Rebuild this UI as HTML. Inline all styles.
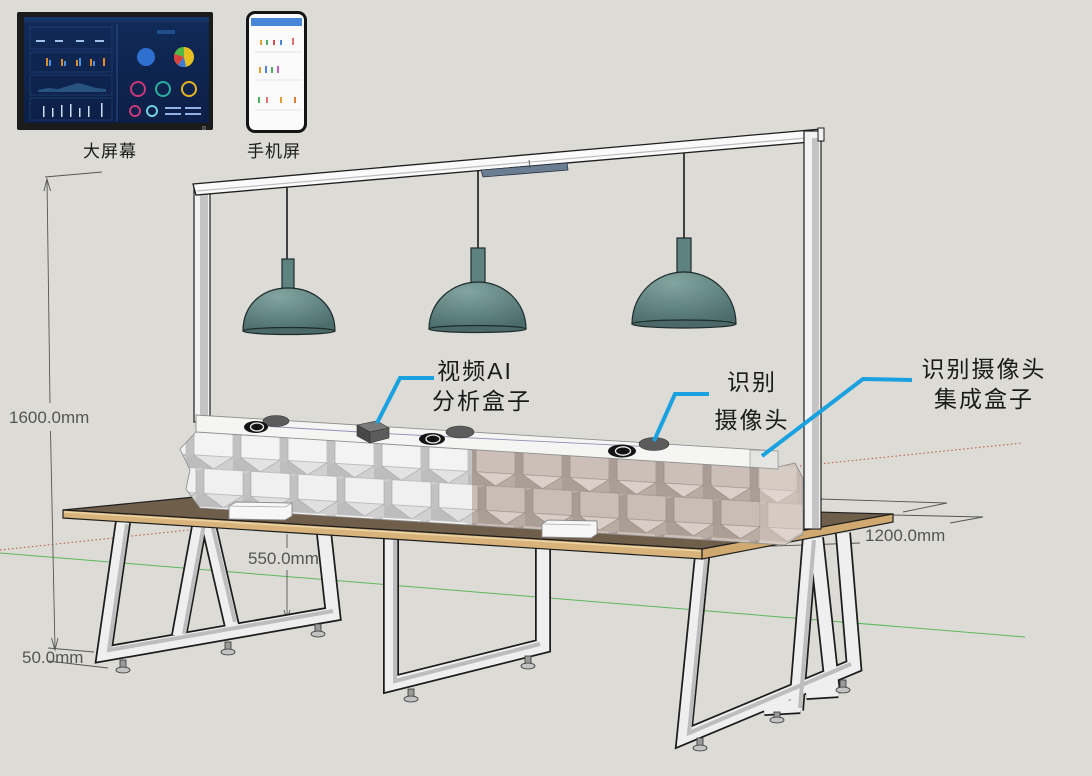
<!DOCTYPE html>
<html><head><meta charset="utf-8">
<style>
html,body{margin:0;padding:0;background:#dcdbd6;}
svg{display:block;}
</style></head><body>
<svg width="1092" height="776" viewBox="0 0 1092 776" xmlns="http://www.w3.org/2000/svg">
<defs>
 <radialGradient id="dome" cx="0.4" cy="0.2" r="0.85">
  <stop offset="0" stop-color="#82a5a2"/>
  <stop offset="1" stop-color="#4a6d6b"/>
 </radialGradient>
 <linearGradient id="scr" x1="0" y1="0" x2="0" y2="1">
  <stop offset="0" stop-color="#112a58"/>
  <stop offset="1" stop-color="#0c1f47"/>
 </linearGradient>
 <pattern id="pw" width="47" height="76" patternUnits="userSpaceOnUse" patternTransform="translate(45,421) skewY(3.43)">
  <rect width="47" height="76" fill="#d0d0d0"/>
  <g>
   <polygon points="0,3 8,0 8,25 0,28" fill="#c2c2c2"/>
   <polygon points="8,0 47,0 47,25 8,25" fill="#f3f3f3" stroke="#a6a6a6" stroke-width=".6"/>
   <polygon points="0,28 8,25 27.5,38 0,38" fill="#bdbdbd"/>
   <polygon points="8,25 47,25 27.5,38" fill="#e3e3e3" stroke="#a6a6a6" stroke-width=".6"/>
  </g>
  <g transform="translate(10,38)">
   <polygon points="0,3 8,0 8,25 0,28" fill="#c2c2c2"/>
   <polygon points="8,0 47,0 47,25 8,25" fill="#f0f0f0" stroke="#a6a6a6" stroke-width=".6"/>
   <polygon points="0,28 8,25 27.5,38 0,38" fill="#bdbdbd"/>
   <polygon points="8,25 47,25 27.5,38" fill="#e0e0e0" stroke="#a6a6a6" stroke-width=".6"/>
  </g>
  <g transform="translate(-37,38)">
   <polygon points="0,3 8,0 8,25 0,28" fill="#c2c2c2"/>
   <polygon points="8,0 47,0 47,25 8,25" fill="#f0f0f0" stroke="#a6a6a6" stroke-width=".6"/>
   <polygon points="0,28 8,25 27.5,38 0,38" fill="#bdbdbd"/>
   <polygon points="8,25 47,25 27.5,38" fill="#e0e0e0" stroke="#a6a6a6" stroke-width=".6"/>
  </g>
 </pattern>
 <pattern id="pb" width="47" height="76" patternUnits="userSpaceOnUse" patternTransform="translate(45,421) skewY(3.43)">
  <rect width="47" height="76" fill="#b9aca3"/>
  <g>
   <polygon points="0,3 8,0 8,25 0,28" fill="#a99c94"/>
   <polygon points="8,0 47,0 47,25 8,25" fill="#cbbfb7" stroke="#95887f" stroke-width=".6"/>
   <polygon points="0,28 8,25 27.5,38 0,38" fill="#ab9e95"/>
   <polygon points="8,25 47,25 27.5,38" fill="#dad0c9" stroke="#95887f" stroke-width=".6"/>
  </g>
  <g transform="translate(10,38)">
   <polygon points="0,3 8,0 8,25 0,28" fill="#a99c94"/>
   <polygon points="8,0 47,0 47,25 8,25" fill="#c9bdb5" stroke="#95887f" stroke-width=".6"/>
   <polygon points="0,28 8,25 27.5,38 0,38" fill="#ab9e95"/>
   <polygon points="8,25 47,25 27.5,38" fill="#d8cec7" stroke="#95887f" stroke-width=".6"/>
  </g>
  <g transform="translate(-37,38)">
   <polygon points="0,3 8,0 8,25 0,28" fill="#a99c94"/>
   <polygon points="8,0 47,0 47,25 8,25" fill="#c9bdb5" stroke="#95887f" stroke-width=".6"/>
   <polygon points="0,28 8,25 27.5,38 0,38" fill="#ab9e95"/>
   <polygon points="8,25 47,25 27.5,38" fill="#d8cec7" stroke="#95887f" stroke-width=".6"/>
  </g>
 </pattern>
 <clipPath id="panelClip"><polygon points="196,432 180,449 190,470 186,489 200,508 785,545 803,534 803,478 795,463 778,467"/></clipPath>
</defs>

<rect width="1092" height="776" fill="#dcdbd6"/>

<!-- ===== Screens ===== -->
<rect x="17" y="12" width="196" height="118" rx="2" fill="#1b1b1b"/>
<rect x="24" y="17" width="185" height="106" fill="url(#scr)"/>
<rect x="24" y="17" width="185" height="5" fill="#163566"/>
<line x1="117" y1="24" x2="117" y2="121" stroke="#2d5c9c" stroke-width="0.8"/>
<rect x="30" y="27" width="82" height="22" fill="none" stroke="#24497f" stroke-width="0.6"/>
<rect x="30" y="52" width="82" height="20" fill="none" stroke="#24497f" stroke-width="0.6"/>
<rect x="30" y="75" width="82" height="20" fill="none" stroke="#24497f" stroke-width="0.6"/>
<rect x="30" y="98" width="82" height="22" fill="none" stroke="#24497f" stroke-width="0.6"/>
<g fill="#9fc0ea">
 <rect x="36" y="40" width="9" height="2"/><rect x="55" y="40" width="8" height="2"/><rect x="76" y="40" width="8" height="2"/><rect x="95" y="40" width="9" height="2"/>
</g>
<g>
 <rect x="46" y="58" width="2" height="8" fill="#e08a2a"/><rect x="49" y="60" width="2" height="6" fill="#4a90e0"/>
 <rect x="61" y="59" width="2" height="7" fill="#e08a2a"/><rect x="64" y="61" width="2" height="5" fill="#4a90e0"/>
 <rect x="76" y="60" width="2" height="6" fill="#e08a2a"/><rect x="79" y="58" width="2" height="8" fill="#4a90e0"/>
 <rect x="90" y="59" width="2" height="7" fill="#e08a2a"/><rect x="93" y="61" width="2" height="5" fill="#4a90e0"/>
 <rect x="103" y="58" width="2" height="8" fill="#e08a2a"/>
</g>
<path d="M38,90 L48,88 L58,89 L68,86 L78,83 L86,85 L96,88 L106,89 L106,92 L38,92 Z" fill="#2f5f8f" opacity="0.8"/>
<g fill="#cfe0f6">
 <rect x="43" y="106" width="1.5" height="11"/><rect x="52" y="108" width="1.5" height="9"/><rect x="61" y="105" width="1.5" height="12"/>
 <rect x="70" y="104" width="1.5" height="13"/><rect x="79" y="108" width="1.5" height="9"/><rect x="88" y="106" width="1.5" height="11"/><rect x="101" y="103" width="1.5" height="14"/>
</g>
<rect x="157" y="30" width="18" height="4" fill="#1f4e8c"/>
<circle cx="146" cy="57" r="9" fill="#2f6fd0"/>
<circle cx="184" cy="57" r="10" fill="#e6c021"/>
<path d="M184,57 L184,47 A10,10 0 0,0 174.5,54 Z" fill="#4fb848"/>
<path d="M184,57 L174.5,54 A10,10 0 0,0 178,65 Z" fill="#d94040"/>
<path d="M184,57 L178,65 A10,10 0 0,0 186,66.8 Z" fill="#3e7bd9"/>
<g fill="none" stroke-width="2">
 <circle cx="138" cy="89" r="7" stroke="#c8387a"/>
 <circle cx="163" cy="89" r="7" stroke="#28b0a0"/>
 <circle cx="189" cy="89" r="7" stroke="#e6b422"/>
 <circle cx="135" cy="111" r="5" stroke="#c8387a"/>
 <circle cx="152" cy="111" r="5" stroke="#6fd0e0"/>
</g>
<g fill="#8fb3e6"><rect x="165" y="107" width="16" height="2"/><rect x="185" y="107" width="16" height="2"/><rect x="165" y="113" width="16" height="2"/><rect x="185" y="113" width="16" height="2"/></g>
<circle cx="204" cy="128" r="1.8" fill="#333" stroke="#888" stroke-width="0.6"/>

<rect x="246" y="11" width="61" height="122" rx="9" fill="#141414"/>
<rect x="249" y="14" width="55" height="116" rx="6" fill="#fbfbfb"/>
<rect x="251" y="18" width="51" height="8" fill="#4a86d8"/>
<g stroke="#dddddd" stroke-width="0.7"><line x1="255" y1="52" x2="302" y2="52"/><line x1="255" y1="80" x2="302" y2="80"/><line x1="255" y1="110" x2="302" y2="110"/></g>
<g>
 <rect x="260" y="40" width="2" height="5" fill="#e0a030"/><rect x="266" y="40" width="2" height="5" fill="#50b060"/><rect x="273" y="40" width="2" height="5" fill="#d05050"/><rect x="280" y="40" width="2" height="5" fill="#4a86d8"/><rect x="292" y="38" width="2" height="7" fill="#e07070"/>
 <rect x="259" y="67" width="2" height="6" fill="#e0a030"/><rect x="265" y="66" width="2" height="7" fill="#4a86d8"/><rect x="271" y="67" width="2" height="6" fill="#50b060"/><rect x="277" y="66" width="2" height="7" fill="#c060c0"/>
 <rect x="258" y="97" width="2" height="6" fill="#50b060"/><rect x="266" y="97" width="2" height="6" fill="#e07070"/><rect x="280" y="97" width="2" height="6" fill="#e0a030"/><rect x="294" y="97" width="2" height="6" fill="#e08030"/>
</g>

<text x="110" y="157" font-family="'Liberation Sans','Noto Sans CJK SC',sans-serif" font-size="17" fill="#1a1a1a" text-anchor="middle" letter-spacing="1">大屏幕</text>
<text x="274" y="157" font-family="'Liberation Sans','Noto Sans CJK SC',sans-serif" font-size="17" fill="#1a1a1a" text-anchor="middle" letter-spacing="1">手机屏</text>

<!-- ===== axes ===== -->
<line x1="0" y1="553" x2="1025" y2="637" stroke="#5cb85c" stroke-width="1"/>
<line x1="0" y1="550" x2="198" y2="529" stroke="#c0563f" stroke-width="1" stroke-dasharray="1.5 2.5"/>
<line x1="800" y1="466" x2="1022" y2="443" stroke="#c0563f" stroke-width="1" stroke-dasharray="1.5 2.5"/>

<!-- ===== dimension lines ===== -->
<g stroke="#555" stroke-width="0.9" fill="none">
 <line x1="45" y1="177" x2="102" y2="172"/>
 <line x1="47" y1="179" x2="50" y2="403"/>
 <line x1="50.5" y1="431" x2="55" y2="650"/>
 <polyline points="44,191 47,179 50.5,191"/>
 <polyline points="51.5,638 55,650 58,638"/>
 <line x1="48" y1="648" x2="94" y2="652"/>
 <line x1="48" y1="661" x2="108" y2="668"/>
 <line x1="97" y1="649" x2="97" y2="661"/>
 <line x1="287" y1="534" x2="287" y2="548"/>
 <line x1="287" y1="570" x2="287" y2="620"/>
 <polyline points="284,610 287,620 290,610"/>
 <line x1="820" y1="499" x2="947" y2="503"/>
 <line x1="947" y1="503" x2="903" y2="512"/>
 <line x1="893" y1="515" x2="983" y2="517"/>
 <line x1="950" y1="523" x2="983" y2="517"/>
 <line x1="717" y1="548" x2="860" y2="543"/>
</g>

<!-- ===== gantry top bar, left post, lamps ===== -->
<rect x="194" y="186" width="16" height="236" fill="#f2f2f2" stroke="#1e1e1e" stroke-width="1.2"/>
<rect x="200" y="192" width="8" height="230" fill="#c4c4c4"/>
<polygon points="193,184 822,129 822,141 196,195" fill="#fafafa" stroke="#1e1e1e" stroke-width="1.3"/>
<line x1="197" y1="191" x2="818" y2="137" stroke="#bdbdbd" stroke-width="1.2"/>
<polygon points="481,170 567,163 568,170 483,177" fill="#6b7d93" stroke="#2a3240" stroke-width="0.8"/>
<line x1="529" y1="160" x2="530" y2="168" stroke="#444" stroke-width="0.8"/>

<g stroke="#1a1a1a">
 <line x1="287" y1="187" x2="287" y2="259" stroke-width="1.6"/>
 <line x1="478" y1="170" x2="478" y2="248" stroke-width="1.6"/>
 <line x1="684" y1="153" x2="684" y2="238" stroke-width="1.6"/>
</g>
<g stroke="#1e2b2a" stroke-width="1.2">
 <rect x="282" y="259" width="12" height="30" fill="#5d8280"/>
 <path d="M243,331 C243,305 262,288 288,288 C314,288 335,305 335,331 Z" fill="url(#dome)"/>
 <ellipse cx="289" cy="331" rx="46" ry="3.5" fill="#4a6968"/>
 <rect x="471" y="248" width="14" height="35" fill="#5d8280"/>
 <path d="M429,329 C429,302 452,282 478,282 C504,282 526,302 526,329 Z" fill="url(#dome)"/>
 <ellipse cx="477.5" cy="329" rx="48.5" ry="3.5" fill="#4a6968"/>
 <rect x="677" y="238" width="14" height="35" fill="#5d8280"/>
 <path d="M632,324 C632,294 656,272 684,272 C712,272 736,294 736,324 Z" fill="url(#dome)"/>
 <ellipse cx="684" cy="324" rx="52" ry="4" fill="#4a6968"/>
</g>

<!-- ===== legs ===== -->
<g fill="none" stroke-linejoin="miter" stroke-linecap="butt">
 <g stroke="#1c1c1c" stroke-width="16">
  <path d="M123,522 L104,654 L333,614 L324,533"/>
  <path d="M200,522 L179,636"/>
  <path d="M208,522 L232,626"/>
  <path d="M391,537 L391,684 L543,646 L543,547"/>
  <path d="M702,557 L684,737 L854,666 L843,533"/>
  <path d="M810,538 L796,710"/>
  <path d="M816,538 L833,694"/>
  <path d="M764,708 L800,706"/>
  <path d="M806,692 L838,690"/>
 </g>
 <g stroke="#efefef" stroke-width="12.5">
  <path d="M123,522 L104,654 L333,614 L324,533"/>
  <path d="M200,522 L179,636"/>
  <path d="M208,522 L232,626"/>
  <path d="M391,537 L391,684 L543,646 L543,547"/>
  <path d="M702,557 L684,737 L854,666 L843,533"/>
  <path d="M810,538 L796,710"/>
  <path d="M816,538 L833,694"/>
  <path d="M764,708 L800,706"/>
  <path d="M806,692 L838,690"/>
 </g>
 <g stroke="#bdbdbd" stroke-width="4">
  <path d="M127,524 L109,650 L333,611"/>
  <path d="M204,524 L184,634"/>
  <path d="M212,524 L235,622"/>
  <path d="M395,539 L395,681 L540,644"/>
  <path d="M706,559 L689,733 L851,664"/>
  <path d="M814,540 L800,708"/>
 </g>
</g>
<g stroke="#333" stroke-width="0.8">
 <g fill="#9a9a9a">
  <rect x="120" y="660" width="6" height="9"/><rect x="225" y="642" width="6" height="9"/><rect x="315" y="624" width="6" height="9"/>
  <rect x="408" y="689" width="6" height="9"/><rect x="525" y="656" width="6" height="9"/>
  <rect x="697" y="738" width="6" height="9"/><rect x="774" y="712" width="6" height="7"/><rect x="840" y="680" width="6" height="9"/>
 </g>
 <g fill="#c2c2c2">
  <ellipse cx="123" cy="670" rx="7" ry="3"/><ellipse cx="228" cy="652" rx="7" ry="3"/><ellipse cx="318" cy="634" rx="7" ry="3"/>
  <ellipse cx="411" cy="699" rx="7" ry="3"/><ellipse cx="528" cy="666" rx="7" ry="3"/>
  <ellipse cx="700" cy="748" rx="7" ry="3"/><ellipse cx="777" cy="720" rx="7" ry="3"/><ellipse cx="843" cy="690" rx="7" ry="3"/>
 </g>
</g>

<!-- ===== table top ===== -->
<polygon points="63,510 205,496 893,514 702,549" fill="#6e5e4a" stroke="#1e1e1e" stroke-width="1.2"/>
<polygon points="63,510 702,549 702,559 63,518" fill="#d8b47c" stroke="#1e1e1e" stroke-width="1.2"/>
<line x1="64" y1="512" x2="701" y2="551" stroke="#ecd3a4" stroke-width="1.5"/>
<polygon points="702,549 893,514 893,522 702,559" fill="#cfa970" stroke="#1e1e1e" stroke-width="1.2"/>

<!-- ===== hex panels ===== -->
<g clip-path="url(#panelClip)">
 <rect x="170" y="420" width="302" height="140" fill="url(#pw)"/>
 <rect x="472" y="420" width="340" height="140" fill="url(#pb)"/>
 <rect x="760" y="440" width="45" height="110" fill="#e6dcd5" opacity="0.45"/>
</g>
<polygon points="196,432 180,449 190,470 186,489 200,508 785,545 803,534 803,478 795,463 778,467" fill="none" stroke="#8c8c8c" stroke-width="0.8"/>

<!-- boxes on table -->
<polygon points="229,506 236,502 292,503 292,516 285,520 229,519" fill="#f7f7f7" stroke="#8a8a8a" stroke-width="0.9"/>
<line x1="229" y1="506" x2="285" y2="507" stroke="#aaa" stroke-width="0.8"/>
<line x1="285" y1="507" x2="292" y2="503" stroke="#aaa" stroke-width="0.8"/>
<polygon points="542,524 548,520 597,521 597,534 591,538 542,537" fill="#f7f7f7" stroke="#8a8a8a" stroke-width="0.9"/>
<line x1="542" y1="524" x2="591" y2="525" stroke="#aaa" stroke-width="0.8"/>

<!-- beam -->
<polygon points="196,415 778,451 778,469 196,432" fill="#f5f5f3" stroke="#8f8f8f" stroke-width="0.9"/>
<polygon points="750,450 778,451 778,469 750,467" fill="#e4e4e2" stroke="#9a9a9a" stroke-width="0.7"/>
<polyline points="262,426 376,433 452,437 654,447" fill="none" stroke="#8d90b4" stroke-width="0.9"/>

<!-- cameras -->
<ellipse cx="276" cy="421" rx="13" ry="5.5" fill="#5c5c5c" stroke="#333" stroke-width="0.6"/>
<ellipse cx="256" cy="427" rx="12" ry="6" fill="#151515"/>
<ellipse cx="257" cy="427" rx="6.5" ry="4" fill="none" stroke="#eee" stroke-width="1.3"/>
<circle cx="257" cy="427" r="2.5" fill="#111"/>

<polygon points="357,425 377,421 389,428 370,432" fill="#7a7a7a" stroke="#333" stroke-width="0.6"/>
<polygon points="357,425 370,432 370,443 357,436" fill="#484848" stroke="#333" stroke-width="0.6"/>
<polygon points="370,432 389,428 389,438 370,443" fill="#5c5c5c" stroke="#333" stroke-width="0.6"/>

<ellipse cx="460" cy="432" rx="14" ry="6" fill="#5c5c5c" stroke="#333" stroke-width="0.6"/>
<ellipse cx="432" cy="439" rx="13" ry="6" fill="#151515"/>
<ellipse cx="433" cy="439" rx="7" ry="4" fill="none" stroke="#eee" stroke-width="1.3"/>
<circle cx="433" cy="439" r="2.5" fill="#111"/>

<ellipse cx="654" cy="444" rx="15" ry="6.5" fill="#5c5c5c" stroke="#333" stroke-width="0.6"/>
<ellipse cx="622" cy="451" rx="14" ry="6.5" fill="#151515"/>
<ellipse cx="623" cy="451" rx="7.5" ry="4.2" fill="none" stroke="#eee" stroke-width="1.3"/>
<circle cx="623" cy="451" r="2.6" fill="#111"/>

<!-- right post -->
<rect x="804" y="131" width="17" height="398" fill="#f2f2f2" stroke="#1e1e1e" stroke-width="1.2"/>
<rect x="812" y="138" width="7" height="390" fill="#c4c4c4"/>
<polygon points="818,128 824,128 824,141 818,141" fill="#f2f2f2" stroke="#1e1e1e" stroke-width="1"/>

<!-- callouts -->
<g fill="none" stroke="#1aa1e0" stroke-width="4" stroke-linejoin="miter">
 <polyline points="377,423 400,378 434,378"/>
 <polyline points="654,441 675,394 709,394"/>
 <polyline points="762,456 863,379 912,380"/>
</g>
<g font-family="'Liberation Sans','Noto Sans CJK SC',sans-serif" font-size="23" fill="#1a1a1a" text-anchor="middle" letter-spacing="2">
 <text x="475" y="379">视频AI</text>
 <text x="482" y="409">分析盒子</text>
 <text x="752" y="390">识别</text>
 <text x="752" y="428">摄像头</text>
 <text x="984" y="377">识别摄像头</text>
 <text x="984" y="407">集成盒子</text>
</g>

<!-- dimension texts -->
<g font-family="'Liberation Sans',sans-serif" font-size="17" fill="#555">
 <text x="9" y="423">1600.0mm</text>
 <text x="22" y="663">50.0mm</text>
 <text x="248" y="564">550.0mm</text>
 <text x="865" y="541">1200.0mm</text>
</g>
</svg>
</body></html>
